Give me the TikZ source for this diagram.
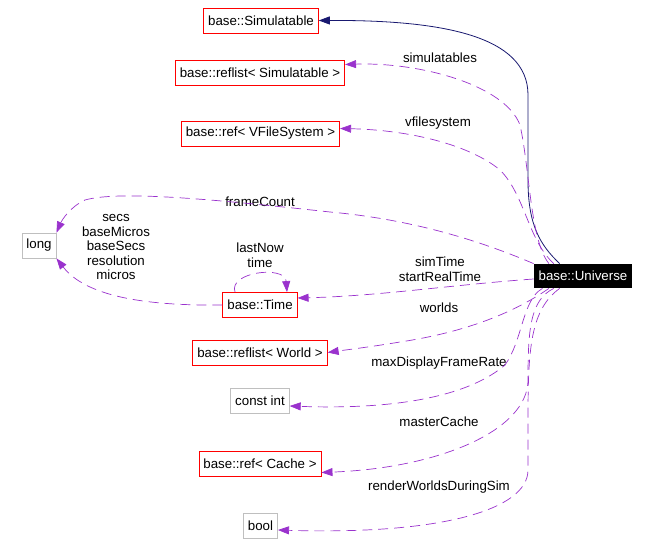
\documentclass[tikz,border=0pt]{standalone}
\usepackage{fontspec}
\setmainfont{Liberation Sans}
\usetikzlibrary{arrows.meta}
\definecolor{member}{HTML}{9A32CD}
\definecolor{inherit}{HTML}{191970}
\definecolor{docbox}{HTML}{FF0000}
\definecolor{plainbox}{HTML}{BFBFBF}

\begin{document}
\begin{tikzpicture}[x=1pt,y=-1pt,
  box/.style={line width=0.8pt, minimum height=25pt, inner xsep=4.5pt, font=\fontsize{13.3}{15}\selectfont},
  cls/.style={box, draw=docbox},
  plain/.style={box, draw=plainbox},
  lbl/.style={font=\fontsize{13.3}{14.5}\selectfont, align=center, inner sep=0pt},
  uses/.style={draw=member, line width=0.7pt, dash pattern=on 10pt off 6pt, -{Triangle[length=11pt,width=8pt,fill=member]}},
  derives/.style={draw=inherit, line width=0.8pt, -{Triangle[length=11pt,width=8pt,fill=inherit]}}]
\useasboundingbox (0,0) rectangle (648,556);
\node[cls] (simulatable) at (261,20.5) {base::Simulatable};
\node[cls] (reflistsim) at (260,72.5) {base::reflist< Simulatable >};
\node[cls] (reffs) at (260.5,133.5) {base::ref< VFileSystem >};
\node[plain] (long) at (39,245.5) {long};
\node[cls] (time) at (260,305) {base::Time};
\node[cls] (reflistworld) at (260,352.5) {base::reflist< World >};
\node[plain] (constint) at (260,401) {const int};
\node[cls] (refcache) at (260,463.5) {base::ref< Cache >};
\node[plain] (bool) at (260.5,526) {bool};
\node[box, fill=black, text=white, minimum width=98pt, minimum height=24pt] (universe) at (583,276) {base::Universe};

\node[lbl] (lsim) at (440,58) {simulatables};
\node[lbl] (lfs) at (438,123) {vfilesystem};
\node[lbl] (lframe) at (260,202) {frameCount};
\node[lbl] (llong) at (116,247) {secs\\baseMicros\\baseSecs\\resolution\\micros};
\node[lbl] (lloop) at (260,255) {lastNow\\time};
\node[lbl] (ltime) at (440,269) {simTime\\startRealTime};
\node[lbl] (lworlds) at (439,308) {worlds};
\node[lbl] (lrate) at (439,363) {maxDisplayFrameRate};
\node[lbl] (lcache) at (439,422) {masterCache};
\node[lbl] (lrender) at (439,487) {renderWorldsDuringSim};

\draw[derives] (universe.152) .. controls (540,245) and (528,225) .. (528,180) -- (528,95) .. controls (528,35) and (440,20) .. (simulatable.east);
\draw[uses] (universe.160) .. controls (530,240) and (530,170) .. (520,125) .. controls (505,85) and (420,62) .. ([yshift=8pt]reflistsim.east);
\draw[uses] (universe.157) .. controls (528,240) and (525,195) .. (500,170) .. controls (470,145) and (410,130) .. ([yshift=5pt]reffs.east);
\draw[uses] (universe.north west) .. controls (490,245) and (420,220) .. (330,212) .. controls (220,200) and (120,190) .. (85,200) .. controls (70,207) and (62,220) .. (long.north east);
\draw[uses] (time.west) .. controls (140,306) and (85,295) .. (long.south east);
\draw[uses] ([xshift=-25pt]time.north) .. controls (228,272) and (285,265) .. ([xshift=27pt]time.north);
\draw[uses] ([yshift=-3pt]universe.west) .. controls (450,285) and (380,296) .. ([yshift=7pt]time.east);
\draw[uses] (universe.200) .. controls (525,305) and (480,330) .. (400,342) .. controls (370,347) and (345,350) .. (reflistworld.east);
\draw[uses] (universe.197) .. controls (522,300) and (523,340) .. (505,365) .. controls (470,395) and (400,410) .. ([yshift=-5pt]constint.east);
\draw[uses] (universe.203) .. controls (530,300) and (528,330) .. (528,380) .. controls (528,430) and (440,468) .. ([yshift=-9pt]refcache.east);
\draw[uses] (universe.208) .. controls (530,310) and (528,350) .. (528,420) -- (528,470) .. controls (528,510) and (440,535) .. ([yshift=-4pt]bool.east);
\end{tikzpicture}
\end{document}
